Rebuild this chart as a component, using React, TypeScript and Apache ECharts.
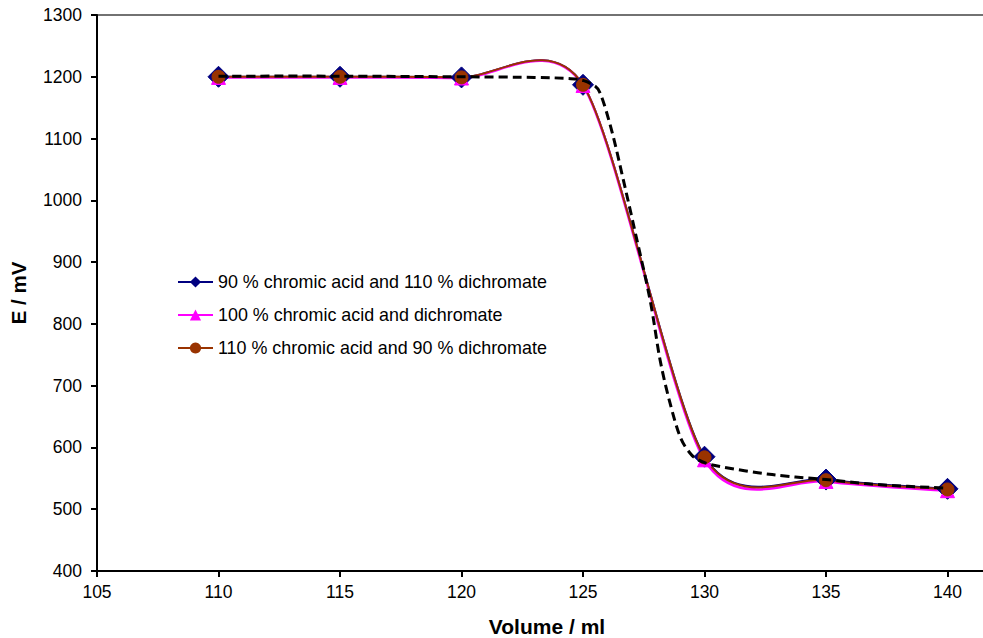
import React, { useEffect, useRef } from "react";
import * as echarts from "echarts";

// Titration volumes (ml) at which the potential was recorded
const volumes = [110, 115, 120, 125, 130, 135, 140];

const seriesNames = [
  "90 % chromic acid and 110 % dichromate",
  "100 % chromic acid and dichromate",
  "110 % chromic acid and 90 % dichromate",
];

// Measured potentials E (mV)
const e90 = [1200, 1200, 1199, 1187, 585, 548, 533];
const e100 = [1199, 1199, 1198, 1186, 580, 545, 530];
const e110 = [1200, 1200, 1199, 1187, 584, 547, 532];

// Reference titration curve (dashed)
const refVolumes = [110, 115, 120, 123, 124.5, 125, 125.3, 125.7, 126.2, 126.66, 127.15, 127.76, 128.17, 128.58, 129, 129.4, 129.7, 130.1, 130.8, 132.2, 133.5, 135, 137.1, 140];
const refE = [1201, 1201, 1200, 1199, 1197, 1194, 1189, 1174, 1110, 1033, 948, 839, 742, 672, 617, 591, 581, 574, 568, 559, 553, 548, 540, 534];

// Axis ranges
const xMin = 105;
const xMax = 145;
const xStep = 5;
const yMin = 400;
const yMax = 1300;
const yStep = 100;

const colors = ["#000080", "#FF00FF", "#993300"];
const symbols = ["diamond", "triangle", "circle"];
const symbolSizes = [21, 14, 13];
const lineWidths = [2, 2.6, 2];

const FONT = "'Liberation Sans', Arial, Helvetica, sans-serif";

// Cubic Bezier spline through pixel points (spreadsheet-style smoothed line)
const SmoothSpline = echarts.graphic.extendShape({
  shape: { points: [] as number[][], tension: 0.135 },
  buildPath(ctx: any, shape: any) {
    const p: number[][] = shape.points;
    const f: number = shape.tension;
    if (!p || p.length < 2) return;
    ctx.moveTo(p[0][0], p[0][1]);
    for (let i = 0; i < p.length - 1; i++) {
      const a = p[i - 1] || p[i];
      const b = p[i];
      const c = p[i + 1];
      const d = p[i + 2] || p[i + 1];
      ctx.bezierCurveTo(
        b[0] + (c[0] - a[0]) * f,
        b[1] + (c[1] - a[1]) * f,
        c[0] - (d[0] - b[0]) * f,
        c[1] - (d[1] - b[1]) * f,
        c[0],
        c[1]
      );
    }
  },
});
echarts.graphic.registerShape("smoothSpline", SmoothSpline);

const pairs = (xs: number[], ys: number[]) => xs.map((x, i) => [x, ys[i]]);

function splineSeries(
  id: string,
  xs: number[],
  ys: number[],
  style: { stroke: string; lineWidth: number; lineDash?: number[] },
  tension: number,
  z: number
) {
  return {
    id,
    name: id,
    type: "custom" as const,
    data: pairs(xs, ys),
    silent: true,
    z,
    renderItem: (params: any, api: any) => {
      if (params.dataIndex !== 0) return null;
      const points = xs.map((x, i) => api.coord([x, ys[i]]));
      return {
        type: "smoothSpline",
        shape: { points, tension },
        style: { fill: "none", ...style, lineCap: "butt", lineJoin: "round" },
      };
    },
  };
}

export default function App() {
  const ref = useRef<HTMLDivElement>(null);

  useEffect(() => {
    if (!ref.current) return;
    const chart = echarts.init(ref.current, undefined, { renderer: "svg" });

    const measured = [e90, e100, e110];

    // Legend entries (line + marker icons)
    const legendSeries = measured.map((_, i) => ({
      name: seriesNames[i],
      type: "line" as const,
      data: [] as number[][],
      symbol: symbols[i],
      color: colors[i],
      lineStyle: { color: colors[i], width: 2 },
      itemStyle: { color: colors[i] },
    }));

    const curves = measured.map((vals, i) =>
      splineSeries("curve-" + i, volumes, vals, { stroke: colors[i], lineWidth: lineWidths[i] }, 0.135, 2)
    );

    const markerSeries = measured.map((vals, i) => ({
      name: "points-" + i,
      type: "scatter" as const,
      data: pairs(volumes, vals),
      symbol: symbols[i],
      symbolSize: symbolSizes[i],
      silent: true,
      itemStyle: { color: colors[i], borderColor: colors[i], borderWidth: 1, opacity: 1 },
      z: 3,
    }));

    const refCurve = splineSeries(
      "reference",
      refVolumes,
      refE,
      { stroke: "#000", lineWidth: 3, lineDash: [9, 5] },
      1 / 6,
      4
    );

    chart.setOption({
      animation: false,
      backgroundColor: "#ffffff",
      textStyle: { fontFamily: FONT },
      grid: {
        left: 97,
        top: 15,
        width: 972,
        height: 556,
        show: true,
        borderColor: "#444",
        borderWidth: 1.5,
        outerBoundsMode: "none",
      },
      legend: {
        data: seriesNames,
        orient: "vertical",
        left: 177,
        top: 272,
        padding: 0,
        itemWidth: 35,
        itemHeight: 14,
        itemGap: 13,
        textStyle: { fontFamily: FONT, fontSize: 17.9, lineHeight: 20, color: "#000" },
        selectedMode: false,
      },
      xAxis: {
        type: "value",
        min: xMin,
        max: xMax,
        interval: xStep,
        name: "Volume / ml",
        nameLocation: "middle",
        nameGap: 45,
        nameTextStyle: {
          fontFamily: FONT,
          fontSize: 21,
          fontWeight: "bold",
          color: "#000",
          padding: [0, 72, 0, 0],
        },
        axisLine: { show: true, lineStyle: { color: "#000", width: 2 } },
        axisTick: { show: true, length: 6, lineStyle: { color: "#000", width: 2 } },
        axisLabel: {
          fontFamily: FONT,
          fontSize: 17.5,
          color: "#000",
          margin: 12,
          showMaxLabel: false,
          formatter: (v: number) => String(v),
        },
        splitLine: { show: false },
      },
      yAxis: {
        type: "value",
        min: yMin,
        max: yMax,
        interval: yStep,
        name: "E / mV",
        nameLocation: "middle",
        nameGap: 68,
        nameRotate: 90,
        nameTextStyle: { fontFamily: FONT, fontSize: 20.5, fontWeight: "bold", color: "#000" },
        axisLine: { show: true, lineStyle: { color: "#000", width: 2 } },
        axisTick: { show: true, length: 6, lineStyle: { color: "#000", width: 2 } },
        axisLabel: {
          fontFamily: FONT,
          fontSize: 17.5,
          color: "#000",
          margin: 15,
          formatter: (v: number) => String(v),
        },
        splitLine: { show: false },
      },
      series: [...legendSeries, ...curves, ...markerSeries, refCurve],
    });

    return () => chart.dispose();
  }, []);

  return (
    <div
      style={{ position: "absolute", left: 0, top: 0, width: 983, height: 638, overflow: "hidden", background: "#fff" }}
    >
      <div ref={ref} style={{ width: 983, height: 638 }} />
    </div>
  );
}
